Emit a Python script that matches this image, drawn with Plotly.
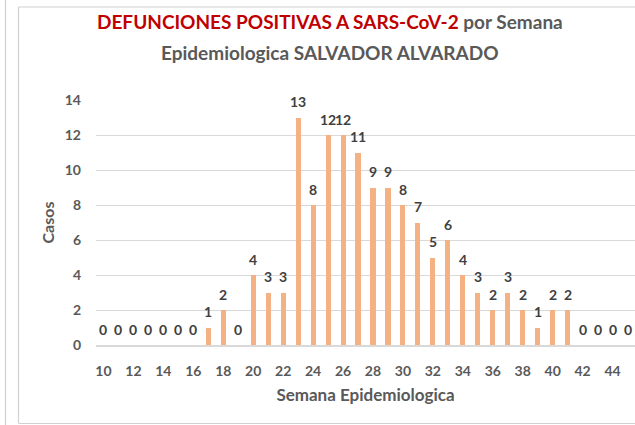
import plotly.graph_objects as go

# Weekly deaths with positive SARS-CoV-2 test, Salvador Alvarado
semanas = list(range(10, 46))
defunciones = [0, 0, 0, 0, 0, 0, 0, 1, 2, 0, 4, 3, 3, 13, 8, 12, 12, 11, 9, 9,
               8, 7, 5, 6, 4, 3, 2, 3, 2, 1, 2, 2, 0, 0, 0, 0]
y_ticks = [0, 2, 4, 6, 8, 10, 12, 14]
x_ticks = list(range(10, 46, 2))

W, H = 635, 425
ML, MR, MT, MB = 96, 0, 100, 80
FONT = "Lato"
GRAY = "#595959"
LABEL = "#404040"
GRID = "#D9D9D9"
BAR = "#F4B183"

fig = go.Figure()
fig.add_trace(go.Bar(
    x=semanas, y=defunciones, width=0.34,
    marker=dict(color=BAR, line=dict(width=0)),
    hoverinfo="x+y",
))

# value labels above each bar
for s, v in zip(semanas, defunciones):
    fig.add_annotation(x=s, y=v, text=f"<b>{v}</b>", showarrow=False,
                       yanchor="middle", yshift=16,
                       font=dict(family=FONT, size=14, color=LABEL))

# two-line title
fig.add_annotation(xref="paper", yref="paper", x=(330 - ML) / (W - ML - MR),
                   y=(H - MB - 22) / (H - MT - MB), yanchor="middle",
                   showarrow=False,
                   text=("<b><span style='color:#C00000'>DEFUNCIONES POSITIVAS A SARS-CoV-2</span>"
                         " por Semana</b>"),
                   font=dict(family=FONT, size=19, color=GRAY))
fig.add_annotation(xref="paper", yref="paper", x=(330 - ML) / (W - ML - MR),
                   y=(H - MB - 52) / (H - MT - MB), yanchor="middle",
                   showarrow=False,
                   text="<b>Epidemiologica SALVADOR ALVARADO</b>",
                   font=dict(family=FONT, size=19, color=GRAY))

# chart frame and the edge of the neighbouring frame
pw = W - ML - MR
ph = H - MT - MB
def px_x(p):
    return (p - ML) / pw
def px_y(p):
    return (H - MB - p) / ph

frame = dict(color="#D0D0D0", width=1.2)
fig.add_shape(type="line", xref="paper", yref="paper",
              x0=px_x(18.5), x1=px_x(18.5), y0=px_y(7), y1=px_y(423), line=frame)
fig.add_shape(type="line", xref="paper", yref="paper",
              x0=px_x(18.5), x1=px_x(640), y0=px_y(7), y1=px_y(7), line=frame)
fig.add_shape(type="line", xref="paper", yref="paper",
              x0=px_x(18.5), x1=px_x(640), y0=px_y(423.5), y1=px_y(423.5), line=frame)
fig.add_shape(type="line", xref="paper", yref="paper",
              x0=px_x(5.5), x1=px_x(5.5), y0=px_y(-5), y1=px_y(430), line=frame)

fig.update_layout(
    width=W, height=H,
    margin=dict(l=ML, r=MR, t=MT, b=MB),
    paper_bgcolor="white", plot_bgcolor="white",
    showlegend=False,
    bargap=0,
    xaxis=dict(
        range=[9.5, 45.5], tickmode="array", tickvals=x_ticks,
        ticktext=[f"<b>{t}</b>" for t in x_ticks],
        showgrid=False, zeroline=False,
        showline=True, linecolor=GRID, linewidth=1.5,
        ticks="", ticklabelstandoff=12,
        tickfont=dict(family=FONT, size=14, color=GRAY),
        title=dict(text="<b>Semana Epidemiologica</b>", standoff=12,
                   font=dict(family=FONT, size=17, color=GRAY)),
    ),
    yaxis=dict(
        range=[0, 14], tickmode="array", tickvals=y_ticks,
        ticktext=[f"<b>{t}</b>" for t in y_ticks],
        showgrid=True, gridcolor=GRID, gridwidth=1.2,
        zeroline=False, showline=False, ticks="",
        ticklabelstandoff=14,
        tickfont=dict(family=FONT, size=14, color=GRAY),
        title=dict(text="<b>Casos</b>", standoff=6,
                   font=dict(family=FONT, size=16, color=GRAY)),
    ),
)

fig.write_html("out.html")
